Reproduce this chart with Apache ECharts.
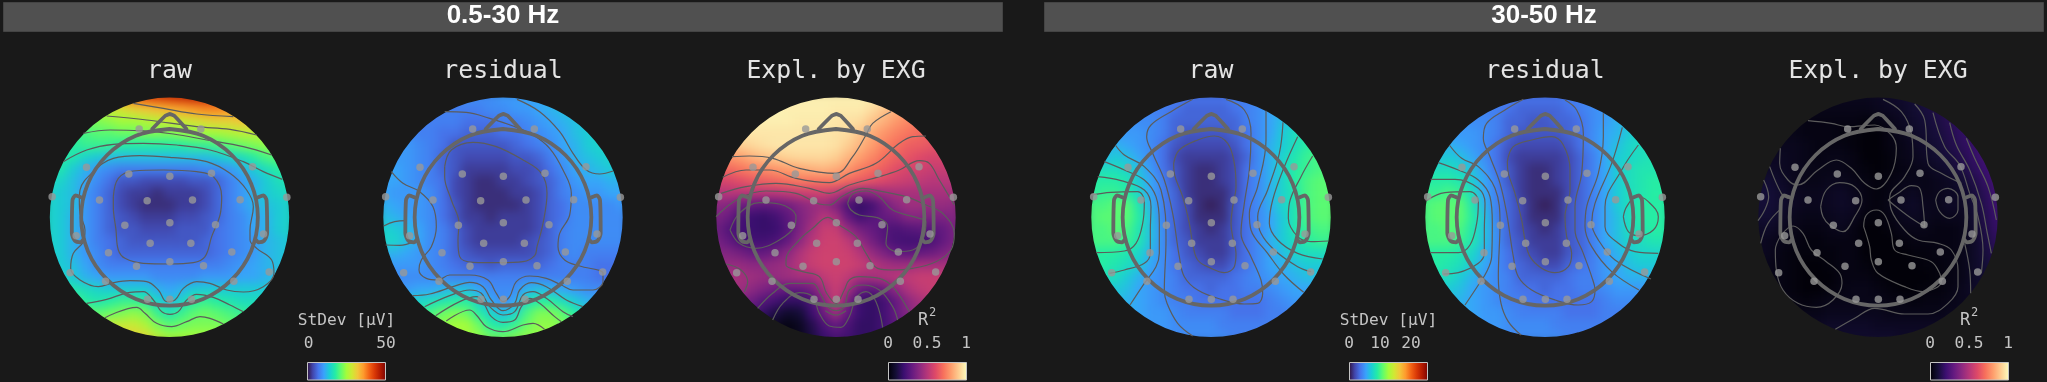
<!DOCTYPE html>
<html>
<head>
<meta charset="utf-8">
<script src="https://cdn.jsdelivr.net/npm/echarts@6/dist/echarts.min.js"></script>
<style>
html,body{margin:0;padding:0;background:#191919;width:2047px;height:382px;overflow:hidden}
#clip{position:absolute;left:0;top:0;width:2047px;height:382px;clip-path:url(#heads)}
#heat{position:absolute;left:0;top:0;width:2047px;height:382px;filter:blur(5px)}
#top{position:absolute;left:0;top:0;width:2047px;height:382px}
</style>
</head>
<body>
<svg width="0" height="0" style="position:absolute"><defs><clipPath id="heads">
<circle cx="169.5" cy="217.3" r="119.7"/><circle cx="503" cy="217.3" r="119.7"/><circle cx="836" cy="217.3" r="119.7"/>
<circle cx="1211" cy="217.3" r="119.7"/><circle cx="1545" cy="217.3" r="119.7"/><circle cx="1878" cy="217.3" r="119.7"/>
</clipPath></defs></svg>
<div id="clip"><div id="heat"></div></div>
<div id="top"></div>
<script>
// ---- sensor values: rows top to bottom, 21 x 21 ----
const rawLow = [
[34,34,34,34,34,35,37,39,41,42,43,44,45,45,44,43,42,40,38,38,38],
[26,26,26,26,27,28,29,31,32,33,34,35,36,37,37,36,36,36,36,36,36],
[22,22,22,22,23,24,25,25,26,27,28,28,29,30,31,31,32,32,32,32,32],
[19,19,19,20,21,21,22,22,23,23,23,24,24,25,25,26,27,27,27,27,27],
[18,18,18,19,19,19,18,18,18,18,18,18,19,19,20,21,22,23,24,24,24],
[18,18,17,15,14,13,13,13,13,13,13,13,13,13,14,15,16,18,20,21,21],
[17,17,14,12,10,9,8,8,8,8,8,8,8,9,9,10,12,14,16,18,18],
[16,15,13,11,9,7,5,5,4,4,4,4,5,5,6,8,10,12,14,16,17],
[15,14,13,10,8,6,4,3,3,2,3,3,3,4,6,8,10,12,14,15,16],
[15,14,13,10,8,6,4,3,2,2,2,3,3,4,6,8,10,12,13,14,15],
[15,14,12,10,8,6,5,4,3,3,3,4,4,5,6,8,9,11,12,14,15],
[15,14,12,10,8,6,5,5,4,4,4,5,5,5,7,8,9,11,12,14,15],
[15,14,12,10,8,7,6,5,5,5,5,5,5,6,7,8,9,10,12,13,14],
[15,14,12,10,9,7,6,6,6,6,6,6,6,6,7,8,9,10,12,13,14],
[15,14,13,11,9,8,8,8,8,8,8,8,8,8,8,9,10,11,12,13,14],
[16,15,14,12,11,10,10,10,10,9,9,9,9,10,10,10,11,11,12,13,14],
[18,17,17,16,15,14,14,14,14,12,11,12,14,14,14,14,14,14,14,15,15],
[22,22,20,18,17,18,19,19,18,15,13,15,18,19,18,17,16,16,16,16,16],
[24,24,24,22,21,22,23,24,23,19,17,19,21,22,21,20,19,18,18,18,18],
[27,27,27,27,27,28,28,28,26,23,21,22,23,23,23,22,21,21,21,21,21],
[29,29,29,29,29,30,31,31,30,27,25,25,25,25,25,24,24,24,24,24,24]
];
const residualLow = [
[8,8,8,8,8,8,8,9,9,9,10,10,11,11,12,13,14,15,16,16,16],
[8,8,8,8,8,8,8,8,8,9,9,10,10,11,12,13,14,15,15,15,15],
[8,8,8,8,8,8,8,7,7,7,8,8,9,10,11,12,13,14,14,15,15],
[9,9,9,8,8,7,7,6,6,6,7,7,8,9,10,11,13,14,15,15,15],
[10,10,10,9,8,7,5,5,5,5,5,6,7,8,9,11,12,14,15,15,15],
[10,10,10,9,8,6,5,4,4,4,4,5,5,6,8,10,12,13,14,15,15],
[11,11,10,9,8,6,5,3,3,3,3,4,4,5,7,9,11,12,13,14,14],
[11,11,10,9,8,7,4,3,2,2,3,3,4,5,6,8,10,11,11,12,12],
[11,10,10,10,9,7,4,3,2,2,2,3,3,4,6,8,9,10,10,11,11],
[12,11,10,10,9,7,5,3,2,2,2,2,3,4,6,7,9,9,9,9,10],
[13,12,11,10,9,7,5,3,3,2,3,3,3,4,6,7,9,9,9,9,9],
[15,14,13,11,9,8,6,4,3,3,3,3,3,4,6,8,9,9,9,9,9],
[15,15,13,11,9,8,6,4,3,3,3,3,4,5,6,8,9,9,9,9,9],
[12,12,11,10,9,8,6,5,4,4,4,4,4,5,6,8,9,8,8,8,8],
[10,10,10,10,9,8,7,6,6,5,6,6,6,6,7,8,8,8,7,7,7],
[9,9,9,9,9,9,8,8,8,8,8,8,8,8,8,8,8,8,7,7,7],
[10,10,10,11,11,12,13,13,11,9,9,9,12,13,12,11,10,9,9,9,9],
[13,13,14,15,16,17,18,18,15,11,9,11,16,18,18,16,14,12,11,11,11],
[18,18,18,18,20,22,23,22,18,15,13,15,20,23,23,21,18,15,14,14,14],
[22,22,22,22,23,24,25,25,22,18,17,19,22,24,24,23,21,19,18,18,18],
[23,23,23,23,24,25,25,25,24,22,22,23,24,24,24,23,22,21,21,21,21]
];
const explainedLow = [
[97,97,97,97,97,97,97,97,97,97,97,97,97,96,96,94,88,84,80,80,80],
[98,98,98,98,98,98,97,97,97,97,96,96,96,93,88,84,80,78,76,76,76],
[97,97,97,97,97,97,97,96,96,96,95,94,93,88,84,79,75,72,70,70,70],
[95,95,95,95,95,95,95,95,95,95,94,93,88,83,78,74,71,68,66,65,65],
[88,88,90,92,94,95,95,95,95,95,94,90,85,80,74,70,66,65,63,62,62],
[78,78,80,84,87,89,91,92,92,92,90,85,80,75,70,66,63,60,58,58,58],
[68,68,71,74,76,78,80,82,84,85,83,78,73,69,65,61,58,56,54,54,54],
[58,58,61,64,66,68,70,72,71,71,71,68,65,62,59,56,54,52,50,50,50],
[48,50,50,50,50,50,52,54,55,56,52,44,38,40,44,46,46,46,46,46,46],
[40,38,32,30,28,30,33,38,42,43,36,24,18,22,32,40,44,44,42,42,40],
[36,32,24,20,19,22,28,36,42,50,46,30,22,26,30,32,38,38,36,36,38],
[33,26,22,20,19,20,26,36,46,54,54,42,34,30,26,24,26,28,27,30,36],
[35,30,24,22,22,24,30,40,50,55,56,52,42,34,27,23,22,22,24,30,36],
[38,37,34,30,30,34,40,48,54,56,56,55,50,42,36,30,28,30,32,36,40],
[42,42,42,40,40,42,44,50,54,56,56,56,54,50,46,44,44,46,46,46,46],
[46,46,46,44,42,42,44,46,46,52,55,52,46,46,48,50,52,54,54,54,54],
[46,46,44,40,36,32,30,30,34,46,54,46,32,28,32,40,48,52,54,54,54],
[42,42,38,32,26,22,18,18,24,38,54,36,20,18,22,30,40,46,50,50,50],
[38,38,32,26,18,12,8,10,20,32,44,30,20,18,22,30,38,44,44,44,44],
[34,30,26,18,10,6,3,6,14,24,30,24,18,18,22,28,34,34,34,34,34],
[26,24,18,14,8,5,3,5,12,20,24,22,18,18,22,26,26,26,26,26,26]
];
const rawHigh = [
[4,4,4,4,4,4,4,4,3.5,3.5,3.5,3.5,4,4,4.5,5,5.5,6,6,6,6],
[4.5,4.5,4.5,4.5,4.5,4,4,3.5,3,3,3,3,3.5,4,4.5,5.5,6,7,7,7,7],
[5,5,5,5,4.5,4.5,4,3,3,3,3,3,3,4,4.5,5.5,6.5,7,8,8,8],
[5,5,5,5,5,4.5,4,3,2.5,2.5,2.5,2.5,3,3.5,4.5,5.5,7,8,9,9,9],
[6,6,6,5.5,5,4.5,3.5,2.5,2,2,2,2,2.5,3.5,4.5,6,7,8,9,9.5,9.5],
[6,6,7,6.5,5.5,4.5,3.5,2,1.5,1.5,1.5,1.5,2,3,4.5,6,7.5,8.5,9.5,10,10],
[8,8,8,7.5,6.5,5,3.5,2.5,1.5,1,1,1.5,2,3.5,4.5,6,7.5,9,9.5,10,10],
[9,9,9,8.5,7,5.5,4,2.5,1.5,1,1,1.5,2,3.5,4.5,6,7.5,9,10,10.5,10.5],
[9,9.5,9.5,9,7.5,5.5,4,3,1.5,1,1,1,2,3.5,4.5,6,7.5,8.5,10,10.5,10.5],
[10,10,10.5,10.5,8.5,6,4,3,2,1,.5,1,2.5,3.5,4.5,6,7.5,8.5,10,10.5,10.5],
[10,10.5,10.5,10.5,9,6.5,4,3,2,1,1,1,2.5,3.5,4.5,5.5,7,8.5,10,10.5,10.5],
[10,10,10.5,10,8.5,6.5,4.5,3,2,1.5,1,1.5,2.5,3.5,4.5,5.5,7,8.5,9.5,10,10],
[10,10,10,9.5,8.5,6.5,4.5,3,2.5,1.5,1.5,1.5,2.5,3.5,4.5,6,7,8,9,9.5,9.5],
[9,9,9,8.5,7.5,6,4.5,3.5,2.5,2,1.5,1.5,2.5,3.5,4.5,5.5,6.5,7.5,8,8,8],
[9,9,8.5,8,7,5.5,4.5,3.5,3,2.5,2,2,3,3.5,4.5,5.5,6,6.5,7,7,7],
[8,8,8,7,6,5,4.5,4,3,3,3,3,3.5,4,4.5,5,5.5,6,6.5,6.5,6.5],
[7,7,7,6.5,5.5,5,4.5,4,3.5,3.5,3,3.5,3.5,4,4,4.5,5,5.5,5.5,5.5,5.5],
[7,6.5,6.5,6,5.5,5,4.5,4,4,3.5,3.5,3.5,3.5,3.5,3.5,4,4.5,5,5,5,5],
[6,6,6,6,5.5,5,5,4.5,4,4,4,4,3.5,3.5,3.5,4,4,4.5,4.5,4.5,4.5],
[6,6,6,5.5,5.5,5,5,4.5,4.5,4.5,4.5,4,4,4,4,4,4,4,4,4,4],
[5.5,5.5,5.5,5.5,5.5,5,5,4.5,4.5,4.5,4.5,4.5,4,4,4,4,4,4,4,4,4]
];
const residualHigh = [
[4,4,4,4,4,4,4,4,3.5,3.5,3.5,3.5,4,4,4.5,5,5,5.5,5.5,5.5,5.5],
[4.5,4.5,4.5,4.5,4.5,4,4,3.5,3,3,3,3,3.5,4,4.5,5,5.5,6,6,6,6],
[5,5,5,5,4.5,4.5,4,3,3,2.5,2.5,3,3,3.5,4.5,5,6,6.5,7,7,7],
[5,5,5,5,5,4.5,4,3,2.5,2.5,2.5,2.5,3,3.5,4.5,5.5,6,7,7.5,7.5,7.5],
[6,6,6,5.5,5,4.5,3.5,2.5,2,2,2,2,2.5,3.5,4.5,5.5,6.5,7.5,8,8,8],
[6.5,6.5,7,6.5,5.5,4.5,3.5,2,1.5,1.5,1.5,1.5,2,3,4,5.5,7,7.5,8,8.5,8.5],
[8,8,8,7.5,6.5,5,3.5,2.5,1.5,1,1,1.5,2,3,4,5.5,7,8,8.5,8.5,8.5],
[9,9,9,8.5,7,5.5,4,2.5,1.5,1,1,1.5,2,3,4,5.5,7,8,8.5,9,9],
[9.5,9.5,10,9.5,8,5.5,4,3,1.5,1,1,1,2,3,4,5.5,7,8,8.5,9,9],
[10,10.5,10.5,10.5,8.5,6,4,3,2,1,.5,1,2.5,3,4,5.5,7,8,9,9,9],
[10,10.5,10.5,10.5,9,6.5,4,3,2,1,1,1,2.5,3,4,5.5,6.5,8,9,9,9],
[10,10,10.5,10,8.5,6.5,4.5,3,2,1.5,1,1.5,2.5,3,4,5.5,6.5,8,8.5,9,9],
[10,10,10,9.5,8.5,6.5,4.5,3,2.5,1.5,1.5,1.5,2.5,3,4,5.5,6.5,7.5,8,8.5,8.5],
[9,9,9,8.5,7.5,6,4.5,3.5,2.5,2,1.5,1.5,2.5,3,4,5,6,7,7.5,7.5,7.5],
[9,9,8.5,8,7,5.5,4.5,3.5,3,2.5,2,2,3,3.5,4,5,5.5,6.5,7,7,7],
[8,8,8,7,6,5,4.5,4,3,3,3,3,3.5,4,4,5,5.5,6,6,6,6],
[7,7,7,6.5,5.5,5,4.5,4,3.5,3.5,3,3.5,3.5,4,4,4.5,5,5,5,5,5],
[7,6.5,6.5,6,5.5,5,4.5,4,4,3.5,3.5,3.5,3.5,3.5,3.5,4,4.5,4.5,4.5,4.5,4.5],
[6,6,6,6,5.5,5,5,4.5,4,4,4,4,3.5,3.5,3.5,4,4,4,4,4,4],
[6,6,6,5.5,5.5,5,5,4.5,4.5,4.5,4.5,4,4,4,4,4,4,4,4,4,4],
[5.5,5.5,5.5,5.5,5.5,5,5,4.5,4.5,4.5,4.5,4.5,4,4,4,4,4,4,4,4,4]
];
const explainedHigh = [
[5,5,5,5,5,5,5,5,5,5,6,7,8,10,12,14,14,14,14,14,14],
[5,5,5,5,5,4,4,4,4,4,5,6,7,9,11,13,15,18,18,18,18],
[4,4,4,4,3,3,3,3,3,2,3,4,6,8,10,12,15,18,21,21,21],
[4,4,4,4,3,3,3,2,2,1,1,3,5,7,9,11,14,17,20,23,23],
[5,5,5,5,4,3,3,3,2,1,1,3,4,6,8,10,13,16,19,22,24],
[6,6,6,5,4,3,4,4,3,1,1,2,4,5,7,9,11,14,18,22,24],
[7,7,6,5,4,4,4,4,3,2,1,2,3,4,5,7,9,12,16,20,23],
[9,9,7,5,4,4,5,5,4,3,2,3,4,4,4,5,6,9,13,18,23],
[10,10,8,6,5,5,6,7,5,3,2,3,5,6,4,5,6,7,11,16,22],
[10,10,8,6,5,5,6,7,6,3,2,4,6,7,5,5,7,6,10,15,21],
[9,9,7,5,4,4,5,6,5,2,2,3,5,6,5,4,5,5,9,14,20],
[7,7,5,4,3,3,4,5,3,1,1,2,4,4,4,3,3,4,8,13,19],
[6,5,4,3,2,2,3,3,3,1,1,1,2,3,3,3,3,4,7,12,17],
[6,5,3,2,2,2,2,3,3,1,1,1,1,2,2,3,3,4,7,11,15],
[5,4,3,2,1,1,2,3,3,2,1,1,1,1,2,2,3,4,7,10,13],
[5,4,3,2,1,1,1,3,3,3,2,1,1,1,1,2,3,4,7,9,11],
[5,4,3,2,1,1,2,3,4,4,3,2,1,1,2,2,3,5,7,9,10],
[5,5,4,3,2,3,4,4,4,4,4,3,3,2,3,3,4,5,6,7,8],
[6,6,5,4,4,4,5,5,5,5,5,4,4,4,4,4,5,5,6,6,7],
[7,7,6,6,6,6,7,7,7,7,6,6,6,6,6,6,6,6,6,6,6],
[8,8,8,8,8,8,8,8,8,8,8,8,7,7,7,7,7,7,7,7,7]
];

// ---- contour lines, in sensor-plane units ----
const rawLowContours = [
[[310,40],[400,55],[500,72],[610,80]],
[[230,78],[350,90],[500,110],[600,118],[680,135]],
[[160,130],[240,120],[330,122],[430,132],[530,150],[640,170],[725,195]],
[[100,215],[170,180],[250,163],[340,160],[440,165],[540,180],[640,215],[700,245],[757,268]],
[[148,330],[150,300],[190,245],[250,205],[330,197],[430,203],[530,215],[600,250],[650,300],[670,350],[660,420],[660,450],[680,475],[725,510],[732,550],[700,590],[640,606],[590,600],[540,580],[500,575],[460,595],[435,630],[410,635],[385,600],[350,575],[300,572],[250,578],[205,590],[150,570],[122,535],[130,490],[160,455],[165,420],[150,370],[148,330]],
[[250,320],[265,265],[310,243],[400,240],[500,245],[550,260],[575,320],[570,375],[545,440],[525,500],[490,518],[420,522],[340,520],[285,505],[265,480],[258,420],[250,350],[250,320]],
[[170,640],[230,628],[300,607],[340,605],[370,630],[395,665],[420,673],[445,665],[470,630],[500,613],[550,622],[600,645],[640,665]],
[[225,683],[320,652],[345,670],[380,700],[425,710],[470,695],[510,680],[540,685],[580,702]]
];
const residualLowContours = [
[[215,65],[280,67],[350,85],[420,108],[480,135],[530,175],[570,240],[595,310],[590,375],[560,430],[555,470],[575,510],[620,528],[690,550],[690,575],[660,600],[600,600],[565,585],[520,565],[470,558],[430,575],[410,620],[390,635],[370,610],[345,570],[290,555],[230,555],[195,570],[160,565],[138,540],[145,510],[175,470],[190,410],[180,350],[140,305],[90,280],[55,245]],
[[432,28],[500,65],[560,125],[600,190],[640,240],[680,252],[720,243]],
[[215,230],[235,180],[300,157],[370,170],[450,210],[505,250],[522,310],[510,400],[492,470],[485,497],[450,515],[380,518],[300,517],[260,500],[255,450],[258,400],[235,330],[215,260],[215,230]],
[[32,408],[65,395],[100,392]],
[[38,465],[80,466],[125,455]],
[[118,617],[170,612],[240,590],[290,577],[330,590],[355,630],[390,662],[425,640],[440,600],[475,578],[520,590],[580,630],[630,650]],
[[155,650],[230,617],[290,600],[325,610],[350,650],[390,675],[425,665],[450,615],[480,605],[520,625],[570,665],[600,680]],
[[188,677],[260,635],[310,620],[335,645],[355,680],[390,697],[425,690],[445,650],[470,625],[500,640],[545,680],[565,695]],
[[220,693],[290,660],[310,675],[340,710],[390,725],[450,705],[480,700],[515,718]]
];
const explainedLowContours = [
[[78,200],[130,198],[200,205],[280,235],[390,250],[440,200],[480,135],[500,100],[555,65]],
[[50,262],[120,240],[190,240],[270,265],[370,278],[430,250],[510,220],[580,160],[620,140],[660,138]],
[[45,310],[120,290],[210,280],[310,295],[370,310],[430,285],[520,260],[580,240],[640,212],[670,220],[700,270],[745,345]],
[[30,380],[100,325],[180,303],[270,310],[340,342],[370,345],[410,318],[470,295],[530,305],[600,320],[660,345],[710,370],[745,430],[735,480],[690,515],[620,535],[560,540],[515,535],[480,490],[450,440],[400,405],[365,382],[320,415],[280,450],[240,510],[240,525],[290,545],[340,560],[362,610],[390,640],[415,600],[430,570],[460,560],[520,565],[560,590],[610,665]],
[[425,340],[440,312],[480,303],[520,320],[560,360],[640,385],[660,395],[650,450],[620,480],[575,485],[540,460],[545,410],[520,385],[460,375],[435,360],[425,340]],
[[72,420],[100,370],[160,338],[220,342],[270,380],[265,410],[220,450],[150,475],[100,460],[72,420]],
[[60,522],[105,540],[125,575],[115,605]],
[[155,655],[200,610],[250,580],[320,580],[345,615],[365,650],[390,662],[415,650],[430,600],[470,585],[520,600],[560,650],[575,690]],
[[200,690],[230,640],[280,608],[320,620],[340,670],[370,708],[405,712],[430,680],[450,625],[480,605],[510,635],[530,712]],
[[358,662],[390,675],[420,662]]
];
const rawHighContours = [
[[278,220],[295,180],[350,150],[400,138],[440,160],[460,220],[465,290],[455,350],[450,400],[455,440],[465,490],[460,530],[430,548],[390,535],[350,510],[335,460],[325,400],[305,320],[280,250],[278,220]],
[[335,28],[270,65],[210,105],[197,140],[215,190],[250,270],[275,370],[295,500],[310,560],[350,600],[420,628],[490,642],[530,640],[545,610],[540,570],[510,500],[480,430],[490,340],[505,240],[510,130],[490,60],[435,28]],
[[103,165],[130,195],[190,230],[240,300],[255,450],[250,600],[258,640],[290,700],[335,738]],
[[70,215],[130,240],[190,270],[225,320],[235,400],[235,490],[225,530],[190,580],[147,645]],
[[50,260],[120,272],[190,300],[210,350],[208,420],[208,490],[190,520],[130,540],[85,550]],
[[30,315],[90,307],[170,305],[190,335],[185,400],[165,460],[130,483],[45,488]],
[[555,62],[555,150],[530,290],[505,370],[510,420],[560,490],[610,555],[668,607]],
[[606,97],[595,190],[560,300],[530,380],[540,430],[580,480],[650,530],[690,545]],
[[650,140],[610,230],[575,330],[565,400],[590,450],[650,490],[725,507]],
[[695,198],[660,260],[625,340],[622,385],[650,440],[690,455],[742,453]]
];
const residualHighContours = [
[[277,215],[295,170],[350,150],[410,140],[445,165],[465,240],[465,300],[450,380],[455,440],[470,490],[460,530],[420,548],[380,535],[345,500],[330,450],[320,390],[300,310],[280,250],[277,215]],
[[325,28],[270,60],[215,100],[205,145],[225,200],[255,280],[275,370],[295,500],[310,560],[350,600],[420,630],[490,645],[530,635],[540,600],[530,560],[505,490],[480,420],[480,350],[500,250],[505,130],[485,60],[450,30]],
[[103,165],[140,205],[190,230],[240,295],[255,400],[250,560],[258,640],[280,695],[318,735]],
[[70,218],[130,240],[190,270],[225,320],[232,400],[230,500],[215,545],[190,585],[150,645]],
[[47,268],[120,268],[190,295],[210,340],[208,420],[208,490],[190,520],[130,548],[85,552]],
[[32,333],[90,308],[165,305],[190,335],[185,400],[165,465],[130,488],[45,488]],
[[565,70],[565,140],[550,250],[515,350],[510,410],[530,470],[590,545],[672,600]],
[[622,112],[590,220],[540,340],[530,400],[550,450],[600,510],[708,567]],
[[670,165],[620,240],[570,350],[570,410],[610,460],[660,485],[730,490]],
[[625,380],[635,350],[665,318],[700,335],[730,380],[715,420],[670,437],[640,425],[625,380]]
];
const explainedHighContours = [
[[180,92],[250,100],[300,110],[380,105],[430,135],[445,175],[430,250],[385,297],[350,280],[310,235],[265,210],[210,240],[150,285],[120,270],[95,220],[97,175]],
[[405,28],[460,65],[490,130],[495,200],[470,260],[425,320],[430,360],[470,420],[510,450],[570,460],[610,480],[630,540],[630,590],[600,640],[540,672],[470,672],[380,655],[320,685],[262,718]],
[[500,42],[530,90],[540,220],[580,250],[640,280]],
[[555,68],[590,170],[635,225],[665,310],[690,380],[705,480],[700,550]],
[[605,98],[625,165],[665,240],[700,340],[718,430],[730,490]],
[[655,145],[680,205],[720,290],[745,390]],
[[650,460],[665,540],[668,610]],
[[65,230],[100,310],[120,325]],
[[47,270],[62,320],[50,360],[30,392]],
[[38,460],[60,400],[100,355]],
[[218,350],[235,300],[275,278],[320,290],[342,330],[320,380],[285,425],[245,405],[225,380],[218,350]],
[[420,330],[450,310],[490,287],[515,295],[525,350],[530,410],[490,385],[450,355],[420,330]],
[[563,330],[575,305],[600,295],[630,320],[630,360],[605,385],[575,365],[563,330]],
[[347,410],[355,375],[385,360],[410,375],[430,430],[440,480],[480,495],[550,515],[575,550],[580,575],[525,605],[470,590],[390,550],[370,510],[365,470],[347,410]],
[[100,435],[135,408],[165,430],[190,480],[235,515],[275,550],[282,580],[255,630],[205,652],[150,640],[105,600],[85,540],[82,480],[100,435]]
];

// ---- sensor positions and head outline, relative to head centre ----
const electrodes = [[-91,-265],[94,-265],[-249,-150],[-122,-130],[1,-123],[126,-132],[249,-152],[-352,-62],[-210,-52],[-67,-50],[69,-52],[212,-53],[352,-60],[-134,24],[1,16],[138,22],[-280,55],[282,50],[-58,78],[64,78],[-183,106],[187,104],[-99,147],[1,133],[102,145],[-298,166],[299,164],[-192,192],[193,192],[-66,246],[1,246],[66,246]];
const headRing = [[0,-265],[101,-245],[187,-187],[245,-101],[265,0],[245,101],[187,187],[101,245],[0,265],[-101,245],[-187,187],[-245,101],[-265,0],[-245,-101],[-187,-187],[-101,-245],[0,-265]];
const nose = [[-52,-265],[-12,-305],[1,-310],[14,-305],[51,-265]];
const leftEar = [[-266,-60],[-282,-66],[-291,-52],[-293,48],[-284,70],[-267,75],[-258,66]];
const rightEar = [[266,-60],[282,-66],[291,-52],[293,48],[284,70],[267,75],[258,66]];

const turbo = ['#30123b','#4145ab','#4675ed','#39a2fc','#1bcfd4','#24eca6','#61fc6c','#a4fc3b','#d1e834','#f3c63a','#fe9b2d','#f36315','#d93806','#b11901','#7a0403'];
const magma = ['#000004','#140e36','#3b0f70','#641a80','#8c2981','#b73779','#de4968','#f7705c','#fe9f6d','#fecf92','#fcfdbf'];

const panels = [
 {title:'raw', values:rawLow, contours:rawLowContours, max:50, map:turbo, cx:169.5, crop:30},
 {title:'residual', values:residualLow, contours:residualLowContours, max:50, map:turbo, cx:503, crop:373},
 {title:'Expl. by EXG', values:explainedLow, contours:explainedLowContours, max:100, map:magma, cx:836, crop:706},
 {title:'raw', values:rawHigh, contours:rawHighContours, max:25, map:turbo, cx:1211, crop:1081},
 {title:'residual', values:residualHigh, contours:residualHighContours, max:25, map:turbo, cx:1545, crop:1415},
 {title:'Expl. by EXG', values:explainedHigh, contours:explainedHighContours, max:100, map:magma, cx:1878, crop:1748}
];
const headers = [{text:'0.5-30 Hz', x:3, w:1000},{text:'30-50 Hz', x:1044, w:1000}];
const scales = [
 {name:'StDev [μV]', x:307.5, map:turbo, ticks:[['0',308.5],['50',386]]},
 {name:'R', x:888.5, map:magma, ticks:[['0',888],['0.5',927],['1',966]]},
 {name:'StDev [μV]', x:1349.5, map:turbo, ticks:[['0',1349],['10',1380],['20',1411]]},
 {name:'R', x:1930.5, map:magma, ticks:[['0',1930],['0.5',1969],['1',2008]]}
];

const MONO = '"DejaVu Sans Mono", monospace';
const idx = Array.from({length:21},(_, i)=>i);

// ---- layer 1: the value fields ----
const heat = echarts.init(document.getElementById('heat'), null, {renderer:'canvas'});
heat.setOption({
  animation:false,
  backgroundColor:'transparent',
  grid: panels.map(p=>({left:p.cx-126, top:91.3, width:252, height:252, containLabel:false})),
  xAxis: panels.map((p,i)=>({type:'category', gridIndex:i, data:idx, show:false})),
  yAxis: panels.map((p,i)=>({type:'category', gridIndex:i, data:idx, inverse:true, show:false})),
  visualMap: panels.map((p,i)=>({type:'continuous', show:false, seriesIndex:i, min:0, max:p.max, inRange:{color:p.map}})),
  series: panels.map((p,i)=>({
    type:'heatmap', xAxisIndex:i, yAxisIndex:i, silent:true, progressive:0,
    data:p.values.flatMap((row,r)=>row.map((v,c)=>[c,r,v]))
  }))
});

// ---- layer 2: contours, head outlines, sensors, text ----
const top2 = echarts.init(document.getElementById('top'), null, {renderer:'canvas'});
const series = [];
panels.forEach((p,i)=>{
  const c = (p.cx-p.crop)*3, cy = 382;
  const shift = a=>a.map(d=>[d[0]+c, d[1]+cy]);
  p.contours.forEach(line=>series.push({type:'line', xAxisIndex:i, yAxisIndex:i, data:line, smooth:0.38, showSymbol:false, silent:true, clip:false, z:2, lineStyle:{color:'#5c5c5c', width:1.2}}));
  [headRing, nose, leftEar, rightEar].forEach((part,k)=>series.push({type:'line', xAxisIndex:i, yAxisIndex:i, data:shift(part), smooth:k===0?0.34:(k===1?0.12:0.25), showSymbol:false, silent:true, clip:false, z:3, lineStyle:{color:'#666666', width:3.8, cap:'round', join:'round'}}));
  series.push({type:'scatter', xAxisIndex:i, yAxisIndex:i, data:shift(electrodes), symbolSize:7.5, silent:true, clip:false, z:4, itemStyle:{color:'#999999'}});
});

const gfx = [];
const txt = (text,x,y,font,fill,weight)=>gfx.push({type:'text', silent:true, z:10, x, y, style:{text, font:(weight||'normal')+' '+font, fill, align:'center', verticalAlign:'middle'}});
headers.forEach(h=>{
  gfx.push({type:'rect', silent:true, z:5, shape:{x:h.x+.5, y:2.5, width:h.w-1, height:29}, style:{fill:'#505050', stroke:'#444444', lineWidth:1}});
  txt(h.text, h.x+h.w/2, 16, '26px "Liberation Sans", Arial, sans-serif', '#ffffff', 'bold');
});
panels.forEach(p=>txt(p.title, p.cx, 72, '24.8px '+MONO, '#e4e4e4'));
scales.forEach(s=>{
  const stops = s.map.map((c,i)=>({offset:i/(s.map.length-1), color:c}));
  gfx.push({type:'rect', silent:true, z:5, shape:{x:s.x, y:362.5, width:78, height:17.5},
    style:{fill:new echarts.graphic.LinearGradient(0,0,1,0,stops), stroke:'#c4c4c4', lineWidth:1}});
  if (s.name==='R') { txt('R', s.x+34.5, 321, '17px '+MONO, '#c4c4c4'); txt('2', s.x+44, 313, '12px '+MONO, '#c4c4c4'); }
  else txt(s.name, s.x+39, 321, '16.2px '+MONO, '#c4c4c4');
  s.ticks.forEach(t=>txt(t[0], t[1], 344, '16.2px '+MONO, '#c4c4c4'));
});

top2.setOption({
  animation:false,
  backgroundColor:'transparent',
  grid: panels.map(p=>({left:p.crop, top:90, width:260, height:260})),
  xAxis: panels.map((p,i)=>({type:'value', gridIndex:i, min:0, max:780, show:false})),
  yAxis: panels.map((p,i)=>({type:'value', gridIndex:i, min:0, max:780, inverse:true, show:false})),
  series,
  graphic: gfx
});
</script>
</body>
</html>
